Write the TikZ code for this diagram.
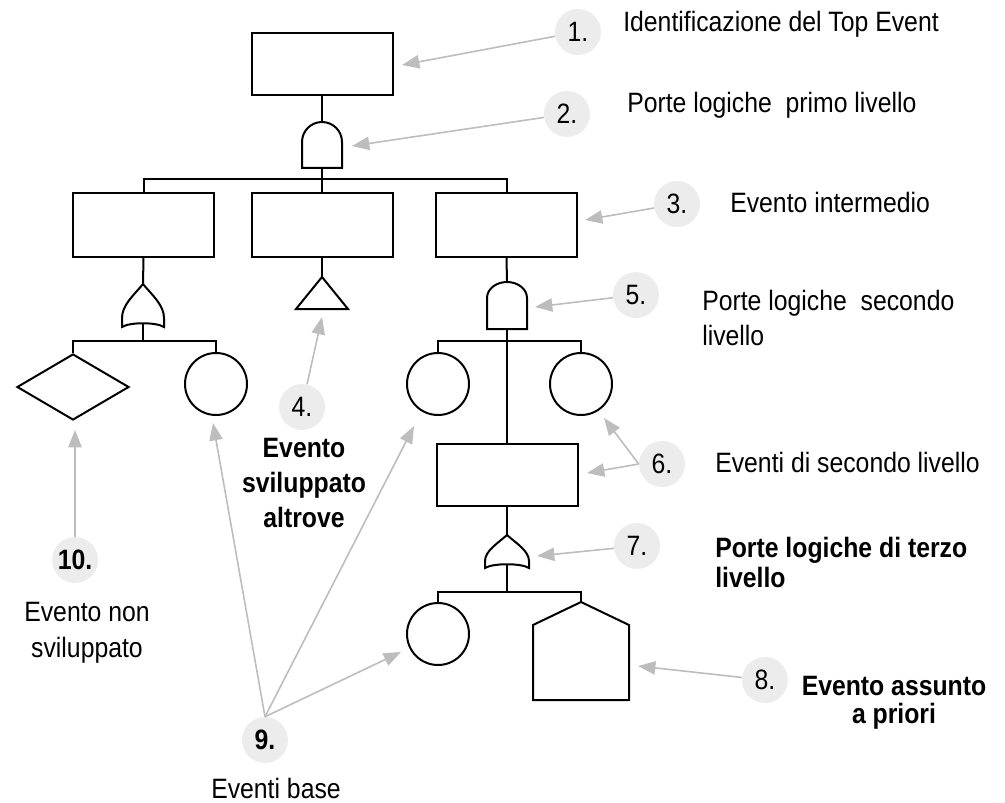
\documentclass[tikz,border=0pt]{standalone}
\usepackage{fontspec}
\setmainfont{Liberation Sans}
\usetikzlibrary{shapes.geometric,arrows.meta}

\definecolor{arrowgray}{HTML}{BDBDBD}
\definecolor{numfill}{HTML}{ECECEC}

% condensed label text: #1 column alignment, #2 baseline skip, #3 lines
\newcommand{\lbl}[3][l]{\scalebox{0.885}[1]{\fontsize{21}{#2}\selectfont\begin{tabular}[t]{@{}#1@{}}#3\end{tabular}}}
\newcommand{\numtxt}[1]{\scalebox{0.885}[1]{#1}}

\begin{document}
\begin{tikzpicture}[x=0.75pt,y=-0.75pt,
  lw/.style={line width=1.5pt, line join=miter},
  evbox/.style={draw, line width=1.5pt, minimum width=105.75pt, minimum height=48pt, inner sep=0pt},
  basic/.style={draw, circle, line width=1.5pt, minimum size=46.5pt, inner sep=0pt},
  undev/.style={draw, diamond, line width=1.5pt, minimum width=84pt, minimum height=49.5pt, inner sep=0pt},
  num/.style={circle, fill=numfill, minimum size=34.5pt, inner sep=0pt, font=\fontsize{21}{25}\selectfont},
  ptr/.style={draw=arrowgray, line width=1.2pt, -{Triangle[length=13pt,width=10pt]}},
  txt/.style={inner sep=0pt, anchor=base west},
  ctxt/.style={inner sep=0pt, anchor=base}]

\useasboundingbox (0,0) rectangle (1005,802);

% ---------- events ----------
\node[evbox, minimum height=46.5pt] (top) at (322,64) {};
\node[evbox] (iL) at (143.5,225) {};
\node[evbox] (iM) at (322,225) {};
\node[evbox] (iR) at (506.5,225) {};
\node[evbox, minimum height=46.5pt] (e2) at (507,475) {};

\node[undev] (dia) at (73,387) {};
\node[basic] (cL) at (216,384) {};
\node[basic] (c5L) at (438,384) {};
\node[basic] (c5R) at (581,384) {};
\node[basic] (c7L) at (438,634) {};

% transfer triangle
\coordinate (tri) at (322,277);
\draw[lw] (tri) -- (348,309) -- (296,309) -- cycle;

% house event
\coordinate (hs) at (581,602);
\draw[lw] (hs) -- (629,625) -- (629,700) -- (533,700) -- (533,625) -- cycle;

% ---------- gates ----------
% AND, first level
\coordinate (g1t) at (322,122);
\coordinate (g1b) at (322,168);
\draw[lw] (302,168) -- (302,142) arc[start angle=180,end angle=0,x radius=15pt,y radius=15pt] -- (342,168) -- cycle;

% OR, left branch
\coordinate (g3t) at (143,284);
\coordinate (g3b) at (143,323.5);
\draw[lw] (g3t) .. controls (134,295) and (122,305) .. (122,318) -- (122,327)
  .. controls (130,322) and (156,322) .. (164,327) -- (164,318)
  .. controls (164,305) and (152,295) .. (g3t) -- cycle;

% AND, second level
\coordinate (g5t) at (507,282);
\coordinate (g5b) at (507,329);
\draw[lw] (487,329) -- (487,298) arc[start angle=180,end angle=0,x radius=15pt,y radius=12pt] -- (527,329) -- cycle;

% OR, third level
\coordinate (g7t) at (507,535);
\coordinate (g7b) at (507,564.5);
\draw[lw] (g7t) .. controls (498,543) and (485,551) .. (485,561) -- (485,568)
  .. controls (493,563) and (521,563) .. (529,568) -- (529,561)
  .. controls (529,551) and (516,543) .. (g7t) -- cycle;

% ---------- tree connections ----------
\coordinate (bus1) at (322,179);
\coordinate (bus3) at (143,341);
\coordinate (bus5) at (507,341);
\coordinate (bus7) at (507,592);

\draw[lw] (top.south) -- (g1t);
\draw[lw] (g1b) -- (iM.north);
\draw[lw] (iL.north) |- (bus1) -| (iR.north);

\draw[lw] (iL.south) -- (g3t);
\draw[lw] (g3b) -- (bus3);
\draw[lw] (dia.north) |- (bus3) -| (cL.north);

\draw[lw] (iM.south) -- (tri);

\draw[lw] (iR.south) -- (g5t);
\draw[lw] (g5b) -- (e2.north);
\draw[lw] (c5L.north) |- (bus5) -| (c5R.north);

\draw[lw] (e2.south) -- (g7t);
\draw[lw] (g7b) -- (bus7);
\draw[lw] (c7L.north) |- (bus7) -| (hs);

% ---------- numbered callouts ----------
\node[num] (n1) at (578,32) {\numtxt{1.}};
\node[num] (n2) at (567,114) {\numtxt{2.}};
\node[num] (n3) at (677,204) {\numtxt{3.}};
\node[num] (n4) at (302,407) {\numtxt{4.}};
\node[num] (n5) at (636,295) {\numtxt{5.}};
\node[num] (n6) at (662,464) {\numtxt{6.}};
\node[num] (n7) at (637,546) {\numtxt{7.}};
\node[num] (n8) at (765,680) {\numtxt{8.}};
\node[num] (n9) at (265,740) {\numtxt{\bfseries 9.}};
\node[num] (n10) at (75,560) {\numtxt{\bfseries 10.}};

\coordinate (t1) at (402,65);
\coordinate (t2) at (352,146);
\coordinate (t3) at (585,220);
\coordinate (t4) at (322,317);
\coordinate (t5) at (535,307);
\coordinate (t6a) at (587,473);
\coordinate (t6b) at (604,418);
\coordinate (t7) at (537,556);
\coordinate (t8) at (638,666);
\coordinate (t9a) at (213,423);
\coordinate (t9b) at (414,426);
\coordinate (t9c) at (401,652);
\coordinate (t10) at (75,430);

\draw[ptr] (n1) -- (t1);
\draw[ptr] (n2) -- (t2);
\draw[ptr] (n3) -- (t3);
\draw[ptr] (n4) -- (t4);
\draw[ptr] (n5) -- (t5);
\draw[ptr] (n6.west) -- (t6a);
\draw[ptr] (n6.west) -- (t6b);
\draw[ptr] (n7) -- (t7);
\draw[ptr] (n8) -- (t8);
\draw[ptr] (n9.north) -- (t9a);
\draw[ptr] (n9.north) -- (t9b);
\draw[ptr] (n9.north) -- (t9c);
\draw[ptr] (n10) -- (t10);

% ---------- descriptions ----------
\node[txt] (d1) at (623,32) {\lbl{25}{Identificazione del Top Event}};
\node[txt] (d2) at (627,113) {\lbl{25}{Porte logiche\ \ primo livello}};
\node[txt] (d3) at (730,213) {\lbl{25}{Evento intermedio}};
\node[ctxt] (d4) at (304,457) {\bfseries\lbl[c]{26.25}{\bfseries Evento\\\bfseries sviluppato\\\bfseries altrove}};
\node[txt] (d5) at (702,310) {\lbl{26.25}{Porte logiche\ \ secondo\\livello}};
\node[txt] (d6) at (715,472) {\lbl{25}{Eventi di secondo livello}};
\node[txt] (d7) at (715,557) {\lbl{22.5}{\bfseries Porte logiche di terzo\\\bfseries livello}};
\node[ctxt] (d8) at (894,695) {\lbl[c]{20.5}{\bfseries Evento assunto\\\bfseries a priori}};
\node[ctxt] (d9) at (276,798) {\lbl[c]{25}{Eventi base}};
\node[ctxt] (d10) at (87,621) {\lbl[c]{27}{Evento non\\sviluppato}};

\end{tikzpicture}
\end{document}
